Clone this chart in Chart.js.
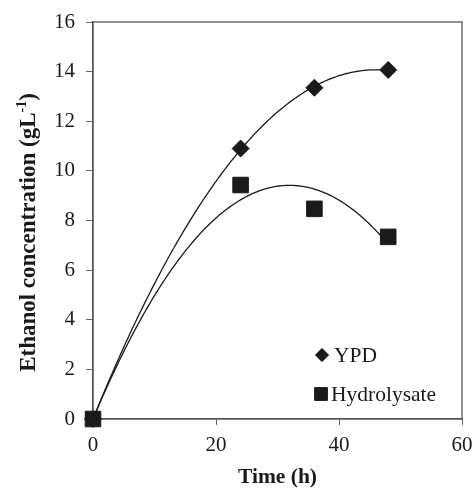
<!DOCTYPE html>
<html>
<head>
<meta charset="utf-8">
<script src="https://cdn.jsdelivr.net/npm/chart.js@4.4.1/dist/chart.umd.min.js"></script>
<style>
  body { margin: 0; background: #fff; }
  canvas { display: block; }
</style>
</head>
<body>
<canvas id="ethanolChart" width="474" height="488"></canvas>
<script>
// --- data ---
const timeHours = [0, 24, 36, 48];
const ypdValues = [0, 10.9, 13.35, 14.07];
const hydrolysateValues = [0, 9.43, 8.47, 7.34];
const xTickValues = [0, 20, 40, 60];
const yTickValues = [0, 2, 4, 6, 8, 10, 12, 14, 16];
const seriesLabels = ['YPD', 'Hydrolysate'];
const yTitleParts = ['Ethanol concentration (gL', '-1', ')'];

const inkColor = '#1a1a1a';
const serif = "'Liberation Serif', 'Times New Roman', serif";

function toPoints(xs, ys) {
    return xs.map((x, i) => ({ x: x, y: ys[i] }));
}

// 2nd order polynomial trendline through origin (least squares), like the spreadsheet one
function fitQuadratic(points) {
    let s2 = 0, s3 = 0, s4 = 0, sxy = 0, sx2y = 0;
    points.forEach(p => {
        s2 += p.x * p.x; s3 += p.x ** 3; s4 += p.x ** 4;
        sxy += p.x * p.y; sx2y += p.x * p.x * p.y;
    });
    const det = s2 * s4 - s3 * s3;
    const b = (sxy * s4 - s3 * sx2y) / det;
    const a = (s2 * sx2y - s3 * sxy) / det;
    return x => a * x * x + b * x;
}

const trendlinePlugin = {
    id: 'trendline',
    beforeDatasetsDraw(chart) {
        const { ctx, chartArea, scales } = chart;
        // box round the plot area
        ctx.save();
        ctx.strokeStyle = '#555';
        ctx.lineWidth = 1.3;
        ctx.strokeRect(chartArea.left, chartArea.top, chartArea.right - chartArea.left, chartArea.bottom - chartArea.top);

        chart.data.datasets.forEach(ds => {
            const f = fitQuadratic(ds.data);
            const xs = ds.data.map(p => p.x);
            const x0 = Math.min(...xs), x1 = Math.max(...xs);
            ctx.beginPath();
            ctx.strokeStyle = inkColor;
            ctx.lineWidth = 1.3;
            for (let x = x0; x <= x1 + 1e-9; x += 0.25) {
                const px = scales.x.getPixelForValue(x);
                const py = scales.y.getPixelForValue(f(x));
                if (x === x0) ctx.moveTo(px, py); else ctx.lineTo(px, py);
            }
            ctx.stroke();
        });
        ctx.restore();
    }
};

// y title with a real superscript, a bit below the plot centre as in the figure
const yTitlePlugin = {
    id: 'yTitle',
    afterDraw(chart) {
        const { ctx, chartArea } = chart;
        const mainFont = 'bold 23px ' + serif;
        const supFont = 'bold 14px ' + serif;
        ctx.save();
        ctx.fillStyle = inkColor;
        ctx.textBaseline = 'alphabetic';
        ctx.font = mainFont;
        const w0 = ctx.measureText(yTitleParts[0]).width;
        const w2 = ctx.measureText(yTitleParts[2]).width;
        ctx.font = supFont;
        const w1 = ctx.measureText(yTitleParts[1]).width;
        const total = w0 + w1 + w2;
        ctx.translate(35, (chartArea.top + chartArea.bottom) / 2 + 12);
        ctx.rotate(-Math.PI / 2);
        let x = -total / 2;
        ctx.font = mainFont;
        ctx.fillText(yTitleParts[0], x, 0);
        x += w0;
        ctx.font = supFont;
        ctx.fillText(yTitleParts[1], x, -9);
        x += w1;
        ctx.font = mainFont;
        ctx.fillText(yTitleParts[2], x, 0);
        ctx.restore();
    }
};

// legend sits inside the plot, bottom right
const innerLegendPlugin = {
    id: 'innerLegend',
    afterDraw(chart) {
        const { ctx, chartArea } = chart;
        const rows = [
            { ds: chart.data.datasets[0], radius: 6.5, dx: 0, dy: -64, gap: 12 },
            { ds: chart.data.datasets[1], radius: 9, dx: -1, dy: -25, gap: 10 }
        ];
        ctx.save();
        ctx.font = '21.5px ' + serif;
        ctx.textBaseline = 'middle';
        rows.forEach(r => {
            const mx = chartArea.left + 229 + r.dx;
            const my = chartArea.bottom + r.dy;
            ctx.fillStyle = inkColor;
            ctx.strokeStyle = inkColor;
            Chart.helpers.drawPoint(ctx, { pointStyle: r.ds.pointStyle, radius: r.radius, borderWidth: 1 }, mx, my);
            ctx.fill();
            ctx.fillText(r.ds.label, mx + r.gap, my + 1);
        });
        ctx.restore();
    }
};

new Chart(document.getElementById('ethanolChart'), {
    type: 'scatter',
    data: {
        datasets: [
            {
                label: seriesLabels[0],
                data: toPoints(timeHours, ypdValues),
                pointStyle: 'rectRot',
                pointRadius: 8.5,
                backgroundColor: inkColor,
                borderColor: inkColor,
                borderWidth: 1,
                clip: false
            },
            {
                label: seriesLabels[1],
                data: toPoints(timeHours, hydrolysateValues),
                pointStyle: 'rect',
                pointRadius: 11,
                backgroundColor: inkColor,
                borderColor: inkColor,
                borderWidth: 1,
                clip: false
            }
        ]
    },
    options: {
        responsive: false,
        animation: false,
        layout: { padding: { top: 22, right: 11, left: 0, bottom: 0 } },
        plugins: {
            legend: { display: false },
            tooltip: { enabled: false }
        },
        scales: {
            x: {
                type: 'linear',
                min: 0, max: 60,
                afterBuildTicks: s => { s.ticks = xTickValues.map(v => ({ value: v })); },
                afterFit: s => { s.height = 69; s.paddingLeft = 0; s.paddingRight = 0; },
                grid: { display: true, drawOnChartArea: false, drawTicks: true, tickLength: 6, color: '#666' },
                border: { display: true, color: '#555', width: 1.3 },
                ticks: { color: inkColor, padding: 8, maxRotation: 0, font: { family: serif, size: 21 } },
                title: {
                    display: true, text: 'Time (h)', color: inkColor,
                    padding: { top: 0, bottom: 0 },
                    font: { family: serif, size: 21.5, weight: 'bold', lineHeight: 1 }
                }
            },
            y: {
                type: 'linear',
                min: 0, max: 16,
                afterBuildTicks: s => { s.ticks = yTickValues.map(v => ({ value: v })); },
                afterFit: s => { s.width = 93; s.paddingTop = 0; s.paddingBottom = 0; },
                grid: { display: true, drawOnChartArea: false, drawTicks: true, tickLength: 7, color: '#666' },
                border: { display: true, color: '#555', width: 1.3 },
                ticks: { color: inkColor, padding: 11, font: { family: serif, size: 21 } },
                title: { display: false }
            }
        }
    },
    plugins: [trendlinePlugin, yTitlePlugin, innerLegendPlugin]
});
</script>
</body>
</html>
